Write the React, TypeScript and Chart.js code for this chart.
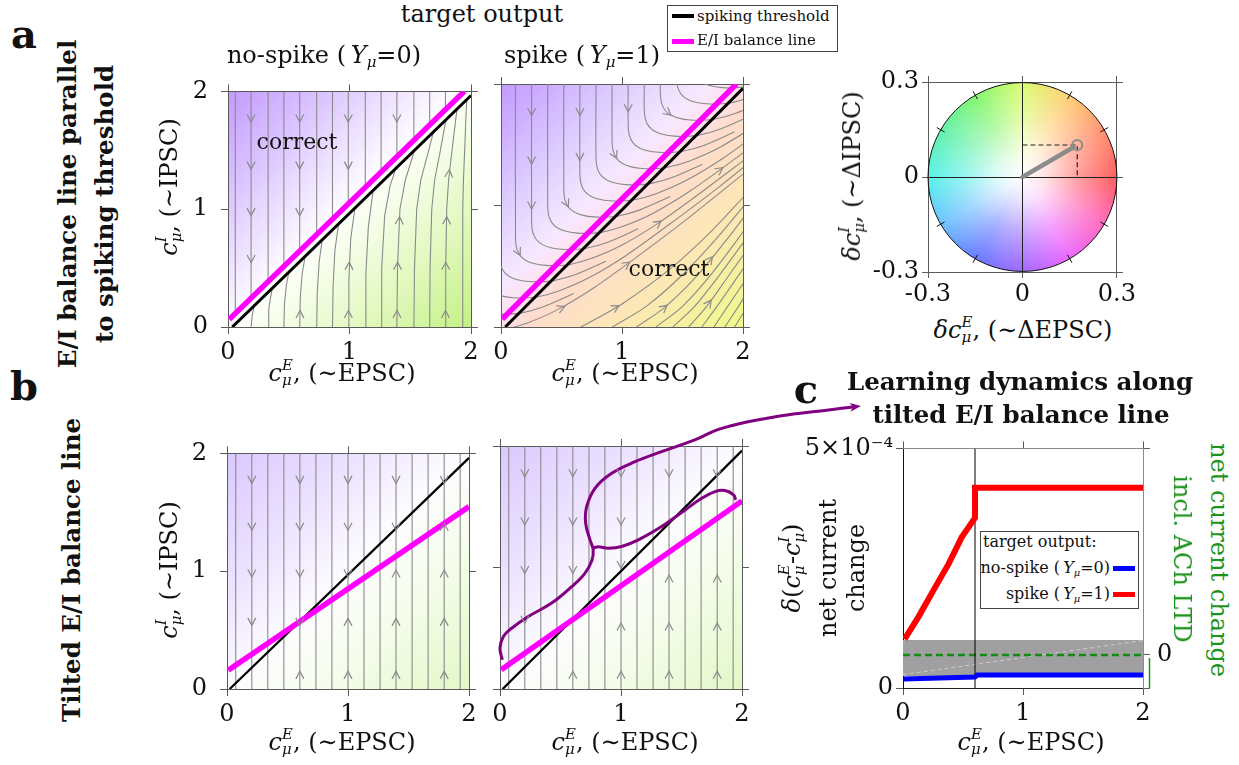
import React, { useEffect, useRef } from 'react';
import { Chart, registerables } from 'chart.js';

Chart.register(...registerables);

const FONT = "'DejaVu Serif', serif";
const INK = '#111111';
const FRAME = '#5a5a5a';
const STREAM = '#8a8a8a';
const MAGENTA = '#ff00ff';
const PURPLE = '#800080';
const GREEN = '#1c931c';

Chart.defaults.font.family = FONT;
Chart.defaults.font.size = 24;
Chart.defaults.color = INK;

// ---------------- tick values and labels ----------------
const FIELD_TICKS = [0, 1, 2];
const FIELD_TICK_LABELS = ['0', '1', '2'];
const WHEEL_TICKS = [-0.3, 0, 0.3];
const WHEEL_TICK_LABELS = ['-0.3', '0', '0.3'];
const C_X_TICKS = [0, 1, 2];
const C_X_TICK_LABELS = ['0', '1', '2'];
const C_Y_TICKS = [0, 5]; // in units of 1e-4
const C_Y_TICK_LABELS = ['0', '5×10⁻⁴'];
const C_Y2_TICKS = [0, 0.69, 5];
const C_Y2_TICK_LABELS = ['', '0', ''];

// ---------------- panel a: parallel balance line ----------------
const THRESH_A = [[0.035, 0], [2, 1.965]];
const BALANCE_A = [[0.01, 0.065], [1.945, 2]];

// no-spike target: streamlines
const A0_STREAMS = [
  [[0.06, 2], [0.06, 0.115]],
  [[0.19, 2], [0.19, 0.245]],
  [[0.33, 2], [0.33, 0.385]],
  [[0.46, 2], [0.46, 0.515]],
  [[0.59, 2], [0.59, 0.645]],
  [[0.73, 2], [0.73, 0.785]],
  [[0.86, 2], [0.86, 0.915]],
  [[0.99, 2], [0.99, 1.045]],
  [[1.13, 2], [1.13, 1.185]],
  [[1.26, 2], [1.26, 1.315]],
  [[1.39, 2], [1.39, 1.445]],
  [[1.53, 2], [1.53, 1.585]],
  [[1.66, 2], [1.66, 1.715]],
  [[1.79, 2], [1.79, 1.845]],
  [[1.93, 2], [1.93, 1.985]],
  [[0.19, 0], [0.2, 0.1], [0.215, 0.18]],
  [[0.33, 0], [0.335, 0.15], [0.35, 0.25], [0.365, 0.33]],
  [[0.46, 0], [0.465, 0.2], [0.48, 0.35], [0.5, 0.465]],
  [[0.59, 0], [0.595, 0.25], [0.61, 0.45], [0.635, 0.6]],
  [[0.73, 0], [0.735, 0.3], [0.75, 0.55], [0.775, 0.74]],
  [[0.86, 0], [0.865, 0.35], [0.88, 0.65], [0.91, 0.875]],
  [[0.99, 0], [0.995, 0.4], [1.01, 0.75], [1.045, 1.01]],
  [[1.13, 0], [1.135, 0.45], [1.155, 0.85], [1.195, 1.16]],
  [[1.26, 0], [1.265, 0.5], [1.29, 0.95], [1.335, 1.2], [1.38, 1.345]],
  [[1.39, 0], [1.395, 0.5], [1.415, 1.0], [1.46, 1.25], [1.535, 1.5]],
  [[1.53, 0], [1.535, 0.5], [1.553, 1.0], [1.587, 1.25], [1.652, 1.5], [1.69, 1.655]],
  [[1.66, 0], [1.663, 0.5], [1.677, 1.0], [1.701, 1.25], [1.748, 1.5], [1.794, 1.76]],
  [[1.79, 0], [1.792, 0.5], [1.8, 1.0], [1.816, 1.25], [1.844, 1.5], [1.873, 1.75], [1.885, 1.85]],
  [[1.93, 0], [1.931, 0.5], [1.933, 1.0], [1.938, 1.25], [1.948, 1.5], [1.957, 1.75], [1.965, 1.93]],
];
// arrows: [x, y, dx, dy]
const A0_ARROWS = [
  [0.19, 1.77, 0, -1], [0.19, 1.37, 0, -1], [0.19, 0.975, 0, -1], [0.19, 0.577, 0, -1],
  [0.59, 1.77, 0, -1], [0.59, 1.37, 0, -1], [0.59, 0.975, 0, -1],
  [0.99, 1.77, 0, -1], [0.99, 1.37, 0, -1],
  [1.39, 1.77, 0, -1],
  [0.593, 0.11, 0.02, 1],
  [0.991, 0.11, 0.01, 1], [0.997, 0.52, 0.03, 1],
  [1.391, 0.11, 0.01, 1], [1.396, 0.52, 0.02, 1], [1.411, 0.906, 0.05, 1],
  [1.79, 0.11, 0, 1], [1.792, 0.52, 0.01, 1], [1.8, 0.906, 0.02, 1], [1.819, 1.305, 0.06, 1],
];

// spike target: streamlines
const A1_STREAMS = [
  [[-0.082, -0.027], [0.038, -0.017], [0.218, 0.033], [0.468, 0.143], [0.768, 0.323], [1.118, 0.573], [1.518, 0.873], [2.018, 1.273]],
  [[-0.029, 0.108], [0.051, 0.106], [0.171, 0.116], [0.351, 0.166], [0.601, 0.276]],
  [[-0.056, 0.279], [0.014, 0.254], [0.104, 0.241], [0.184, 0.239], [0.304, 0.249], [0.484, 0.299], [0.734, 0.409], [1.034, 0.589], [1.384, 0.839], [1.784, 1.139], [2.284, 1.539]],
  [[-0.013, 0.592], [-0.003, 0.512], [0.027, 0.452], [0.077, 0.412], [0.147, 0.387], [0.237, 0.374], [0.317, 0.372], [0.437, 0.382], [0.617, 0.432], [0.867, 0.542]],
  [[0.12, 2], [0.12, 0.725], [0.13, 0.645], [0.16, 0.585], [0.21, 0.545], [0.28, 0.52], [0.37, 0.507], [0.45, 0.505], [0.57, 0.515], [0.75, 0.565], [1.0, 0.675], [1.3, 0.855], [1.65, 1.105], [2.05, 1.405]],
  [[0.253, 2], [0.253, 0.858], [0.263, 0.778], [0.293, 0.718], [0.343, 0.678], [0.413, 0.653], [0.503, 0.64], [0.583, 0.638], [0.703, 0.648], [0.883, 0.698], [1.133, 0.808]],
  [[0.386, 2], [0.386, 0.991], [0.396, 0.911], [0.426, 0.851], [0.476, 0.811], [0.546, 0.786], [0.636, 0.773], [0.716, 0.771], [0.836, 0.781], [1.016, 0.831], [1.266, 0.941], [1.566, 1.121], [1.916, 1.371], [2.316, 1.671]],
  [[0.519, 2], [0.519, 1.124], [0.529, 1.044], [0.559, 0.984], [0.609, 0.944], [0.679, 0.919], [0.769, 0.906], [0.849, 0.904], [0.969, 0.914], [1.149, 0.964], [1.399, 1.074]],
  [[0.652, 2], [0.652, 1.257], [0.662, 1.177], [0.692, 1.117], [0.742, 1.077], [0.812, 1.052], [0.902, 1.039], [0.982, 1.037], [1.102, 1.047], [1.282, 1.097], [1.532, 1.207], [1.832, 1.387], [2.182, 1.637]],
  [[0.785, 2], [0.785, 1.39], [0.795, 1.31], [0.825, 1.25], [0.875, 1.21], [0.945, 1.185], [1.035, 1.172], [1.115, 1.17], [1.235, 1.18], [1.415, 1.23], [1.665, 1.34]],
  [[0.918, 2], [0.918, 1.523], [0.928, 1.443], [0.958, 1.383], [1.008, 1.343], [1.078, 1.318], [1.168, 1.305], [1.248, 1.303], [1.368, 1.313], [1.548, 1.363], [1.798, 1.473], [2.098, 1.653]],
  [[1.051, 2], [1.051, 1.656], [1.061, 1.576], [1.091, 1.516], [1.141, 1.476], [1.211, 1.451], [1.301, 1.438], [1.381, 1.436], [1.501, 1.446], [1.681, 1.496], [1.931, 1.606]],
  [[1.184, 2], [1.184, 1.789], [1.194, 1.709], [1.224, 1.649], [1.274, 1.609], [1.344, 1.584], [1.434, 1.571], [1.514, 1.569], [1.634, 1.579], [1.814, 1.629], [2.064, 1.739]],
  [[1.317, 2], [1.317, 1.922], [1.327, 1.842], [1.357, 1.782], [1.407, 1.742], [1.477, 1.717], [1.567, 1.704], [1.647, 1.702], [1.767, 1.712], [1.947, 1.762], [2.197, 1.872]],
  [[1.45, 2.055], [1.46, 1.975], [1.49, 1.915], [1.54, 1.875], [1.61, 1.85], [1.7, 1.837], [1.78, 1.835], [1.9, 1.845], [2.08, 1.895]],
  [[1.623, 2.048], [1.673, 2.008], [1.743, 1.983], [1.833, 1.97], [1.913, 1.968], [2.033, 1.978]],
  [[0.66, 0], [1.0, 0.19], [1.4, 0.48], [1.75, 0.8], [2.05, 1.12]],
  [[0.92, 0], [1.2, 0.17], [1.5, 0.43], [1.8, 0.75], [2.05, 1.05]],
  [[1.12, 0], [1.35, 0.16], [1.6, 0.4], [1.85, 0.7], [2.05, 0.96]],
  [[1.28, 0], [1.5, 0.17], [1.75, 0.45], [2.05, 0.85]],
  [[1.42, 0], [1.6, 0.17], [1.8, 0.42], [2.05, 0.76]],
  [[1.55, 0], [1.7, 0.17], [1.88, 0.42], [2.05, 0.66]],
  [[1.66, 0], [1.8, 0.19], [2.05, 0.55]],
  [[1.76, 0], [1.88, 0.18], [2.05, 0.43]],
  [[1.85, 0], [1.95, 0.15], [2.05, 0.31]],
  [[1.93, 0], [2.05, 0.19]],
];
const A1_ARROWS = [
  [0.253, 1.77, 0, -1], [0.253, 1.37, 0, -1], [0.253, 1.0, 0, -1],
  [0.652, 1.77, 0, -1], [0.652, 1.4, 0, -1],
  [1.051, 1.8, 0, -1],
  [0.145, 0.615, 0.5, -1],
  [0.544, 1.014, 0.5, -1],
  [0.943, 1.413, 0.5, -1],
  [1.382, 1.762, 1.25, -1],
  [0.5, 0.157, 1, 0.44],
  [1.04, 0.517, 1, 0.71],
  [1.3, 0.855, 1, 0.7],
  [1.81, 1.295, 1, 0.71],
  [1.73, 0.556, 1, 1.2],
  [1.35, 0.16, 1, 0.8],
  [1.72, 0.198, 1, 1.39],
  [0.95, 0.162, 1, 0.56],
];

// ---------------- panel a: weight-change wheel ----------------
const WHEEL_R = 0.3;
const WHEEL_VEC = [0.174, 0.101];
const WHEEL_SHAFT = [[0, 0], [0.162, 0.094]];
const WHEEL_DASH = [[0, 0.101], [0.174, 0.101], [0.174, 0]];
const WHEEL_TICK_ANGLES = [30, 60, 120, 150, 210, 240, 300, 330];
const WHEEL_COLORS = [
  [0, 'rgb(255,85,85)'], [30, 'rgb(255,140,105)'], [60, 'rgb(255,205,110)'], [90, 'rgb(215,252,105)'],
  [120, 'rgb(125,245,105)'], [150, 'rgb(90,240,165)'], [180, 'rgb(80,240,232)'], [210, 'rgb(100,190,255)'],
  [240, 'rgb(95,115,255)'], [270, 'rgb(155,95,255)'], [300, 'rgb(235,95,255)'], [330, 'rgb(255,95,185)'],
];

// ---------------- panel b: tilted balance line ----------------
const THRESH_B = [[0.022, 0], [2, 1.962]];
const BALANCE_B = [[0.01, 0.159], [2, 1.548]];
const B_STREAM_X = [0.072, 0.205, 0.337, 0.47, 0.602, 0.735, 0.867, 1.0, 1.132, 1.265, 1.397, 1.53, 1.662, 1.795, 1.927];
const B_STREAM_Y = [0, 2];
const B0_ARROWS = [
  [0.205, 1.775, 0, -1], [0.205, 1.378, 0, -1], [0.205, 0.98, 0, -1], [0.205, 0.57, 0, -1],
  [0.602, 1.775, 0, -1], [0.602, 1.378, 0, -1], [0.602, 0.98, 0, -1], [0.602, 0.57, 0, -1],
  [1.0, 1.775, 0, -1], [1.0, 1.378, 0, -1], [1.0, 0.98, 0, -1],
  [1.397, 1.775, 0, -1], [1.397, 1.378, 0, -1],
  [1.795, 1.775, 0, -1],
  [0.602, 0.12, 0, 1], [1.0, 0.57, 0, 1], [1.0, 0.12, 0, 1],
  [1.397, 0.98, 0, 1], [1.397, 0.57, 0, 1], [1.397, 0.12, 0, 1],
  [1.795, 1.378, 0, 1], [1.795, 0.98, 0, 1], [1.795, 0.57, 0, 1], [1.795, 0.12, 0, 1],
];
const B1_ARROWS = [
  [0.205, 1.775, 0, -1], [0.205, 1.378, 0, -1], [0.205, 0.98, 0, -1], [0.205, 0.57, 0, -1],
  [0.602, 1.775, 0, -1], [0.602, 1.378, 0, -1], [0.602, 0.98, 0, -1],
  [1.0, 1.775, 0, -1], [1.0, 1.378, 0, -1], [1.0, 1.02, 0, -1],
  [1.397, 1.775, 0, -1],
  [1.795, 1.775, 0, -1],
  [0.602, 0.118, 0, 1],
  [1.0, 0.515, 0, 1], [1.0, 0.118, 0, 1],
  [1.397, 0.91, 0, 1], [1.397, 0.515, 0, 1], [1.397, 0.118, 0, 1],
  [1.795, 0.91, 0, 1], [1.795, 0.515, 0, 1], [1.795, 0.118, 0, 1],
];
// learning trajectory (purple) and its arrow to panel c
const B1_PATH_MAIN = [
  [0.019, 0.241], [0.0, 0.337], [0.028, 0.433], [0.096, 0.5], [0.234, 0.597], [0.427, 0.707], [0.59, 0.84],
  [0.7, 0.95], [0.76, 1.06], [0.77, 1.145], [0.744, 1.227], [0.708, 1.364], [0.716, 1.5], [0.785, 1.652],
  [0.923, 1.775], [1.116, 1.871], [1.336, 1.953], [1.61, 2.05], [1.8, 2.135], [2.05, 2.2], [2.4, 2.26],
  [2.7, 2.295], [2.95, 2.325],
];
const B1_PATH_BRANCH = [
  [0.77, 1.16], [0.81, 1.17], [0.895, 1.159], [1.006, 1.173], [1.143, 1.227], [1.336, 1.337], [1.53, 1.474],
  [1.667, 1.57], [1.777, 1.625], [1.86, 1.633], [1.93, 1.597], [1.948, 1.556],
];

// ---------------- panel c: net current change ----------------
const C_SPIKE_X = [0.013, 0.13, 0.27, 0.38, 0.49, 0.6, 0.6, 2.0];
const C_SPIKE_Y = [1.02, 1.49, 2.11, 2.59, 3.15, 3.55, 4.18, 4.18];
const C_NOSPIKE_X = [0.005, 0.6, 0.62, 2.0];
const C_NOSPIKE_Y = [0.19, 0.23, 0.27, 0.27];
const C_BAND_LOW = 0.25;
const C_BAND_HIGH = 1.0;
const C_LTD_ZERO = 0.69;
const C_CROSS_X = 0.6;
const C_BAND_DIAG = [[0, 0.28], [2, 0.99]];

// ---------------- layout (page pixels of each plot area) ----------------
const BOX_A0 = { l: 228, t: 84, r: 471, b: 327 };
const BOX_A1 = { l: 501, t: 84, r: 743, b: 327 };
const BOX_W = { l: 928, t: 82, r: 1118, b: 272 };
const BOX_B0 = { l: 227, t: 446, r: 469, b: 689 };
const BOX_B1 = { l: 500, t: 446, r: 742, b: 689 };
const BOX_C = { l: 903, t: 447, r: 1143, b: 688 };

function frame(box, m, ax) {
  return {
    rect: { x: box.l - m.l, y: box.t - m.t, w: box.r - box.l + m.l + m.r, h: box.b - box.t + m.t + m.b },
    padding: { left: m.l - ax.l, top: m.t - ax.t, right: m.r - ax.r, bottom: m.b - ax.b },
    ax,
  };
}
const M_FIELD = { l: 60, t: 20, r: 20, b: 45 };
const AX_FIELD = { l: 50, t: 10, r: 10, b: 35 };
const FR_A0 = frame(BOX_A0, M_FIELD, AX_FIELD);
const FR_A1 = frame(BOX_A1, M_FIELD, AX_FIELD);
const FR_B0 = frame(BOX_B0, M_FIELD, AX_FIELD);
const FR_B1 = frame(BOX_B1, { l: 60, t: 60, r: 130, b: 45 }, AX_FIELD);
const FR_W = frame(BOX_W, { l: 72, t: 20, r: 20, b: 40 }, { l: 62, t: 10, r: 10, b: 30 });
const FR_C = frame(BOX_C, { l: 125, t: 20, r: 45, b: 45 }, { l: 115, t: 10, r: 35, b: 35 });

const BG_A0 = [[0, '#c39aff'], [0.22, '#dcc6ff'], [0.47, '#fcf9ff'], [0.53, '#fbfff4'], [0.78, '#e0f8bb'], [1, '#c3f186']];
const BG_A1 = [[0, '#c39aff'], [0.25, '#ddccff'], [0.42, '#f6e8ff'], [0.49, '#ffe2ee'], [0.55, '#ffdccc'], [0.75, '#fde8b4'], [1, '#effa8a']];
const BG_B = [[0, '#dac8ff'], [0.3, '#eee4ff'], [0.5, '#fdfcff'], [0.7, '#f5fdeb'], [1, '#e2f8c6']];

// ---------------- helpers ----------------
const toXY = (arr) => arr.map(([x, y]) => ({ x, y }));
const zipXY = (xs, ys) => xs.map((x, i) => [x, ys[i]]);

function lineDs(arr, color, width, extra = {}) {
  return {
    data: toXY(arr), borderColor: color, backgroundColor: color, borderWidth: width,
    pointRadius: 0, pointHoverRadius: 0, fill: false, tension: 0, xAxisID: 'x', yAxisID: 'y', ...extra,
  };
}

function axis(pos, min, max, ticks, labels, size, opt: any = {}) {
  const horizontal = pos === 'top' || pos === 'bottom';
  return {
    type: 'linear', position: pos, min, max,
    afterBuildTicks: (ax) => { ax.ticks = ticks.map((v) => ({ value: v })); },
    afterFit: (ax) => { if (horizontal) ax.height = size; else ax.width = size; },
    ticks: {
      display: !!labels, padding: opt.pad ?? 4, color: INK, font: { family: FONT, size: 24 },
      autoSkip: false, maxRotation: 0, minRotation: 0,
      callback: (_v, i) => (labels ? labels[i] : ''),
    },
    grid: {
      display: true, drawOnChartArea: !!opt.onArea, drawTicks: true, tickLength: opt.tickLen ?? 7,
      color: opt.gridColor ?? FRAME, tickColor: opt.tickColor ?? FRAME, lineWidth: 1,
    },
    border: { display: true, color: opt.border ?? FRAME, width: 1 },
  };
}

function baseOptions(fr, scales) {
  return {
    responsive: false, animation: false, devicePixelRatio: 1, events: [],
    layout: { padding: fr.padding },
    plugins: { legend: { display: false }, tooltip: { enabled: false } },
    scales,
  };
}

function paintDiagonal(c, stops) {
  const { ctx, chartArea: a } = c;
  const g = ctx.createLinearGradient(a.left, a.top, a.right, a.bottom);
  stops.forEach(([o, col]) => g.addColorStop(o, col));
  ctx.save();
  ctx.fillStyle = g;
  ctx.fillRect(a.left, a.top, a.right - a.left, a.bottom - a.top);
  ctx.restore();
}

function drawChevrons(c, arrows, color = STREAM) {
  const { ctx, chartArea: a, scales } = c;
  const x = scales.x, y = scales.y;
  ctx.save();
  ctx.beginPath();
  ctx.rect(a.left, a.top, a.right - a.left, a.bottom - a.top);
  ctx.clip();
  ctx.strokeStyle = color;
  ctx.lineWidth = 1.2;
  for (const [ax, ay, dx, dy] of arrows) {
    const px = x.getPixelForValue(ax), py = y.getPixelForValue(ay);
    const vx = x.getPixelForValue(ax + dx) - px;
    const vy = y.getPixelForValue(ay + dy) - py;
    const L = Math.hypot(vx, vy) || 1;
    const ux = vx / L, uy = vy / L;
    const tx = px + ux * 3.5, ty = py + uy * 3.5;
    const bx = tx - ux * 7.5, by = ty - uy * 7.5;
    ctx.beginPath();
    ctx.moveTo(bx - uy * 4, by + ux * 4);
    ctx.lineTo(tx, ty);
    ctx.lineTo(bx + uy * 4, by - ux * 4);
    ctx.stroke();
  }
  ctx.restore();
}

function drawHead(c, path, color) {
  const { ctx, scales } = c;
  const x = scales.x, y = scales.y;
  const n = path.length;
  const qx = x.getPixelForValue(path[n - 2][0]), qy = y.getPixelForValue(path[n - 2][1]);
  const px = x.getPixelForValue(path[n - 1][0]), py = y.getPixelForValue(path[n - 1][1]);
  const L = Math.hypot(px - qx, py - qy) || 1;
  const ux = (px - qx) / L, uy = (py - qy) / L;
  const tx = px + ux * 4, ty = py + uy * 4;
  ctx.save();
  ctx.fillStyle = color;
  ctx.beginPath();
  ctx.moveTo(tx, ty);
  ctx.lineTo(tx - ux * 11 - uy * 4.5, ty - uy * 11 + ux * 4.5);
  ctx.lineTo(tx - ux * 8, ty - uy * 8);
  ctx.lineTo(tx - ux * 11 + uy * 4.5, ty - uy * 11 - ux * 4.5);
  ctx.closePath();
  ctx.fill();
  ctx.restore();
}

function fieldBuild(o) {
  return (fr) => {
    const datasets = [
      ...(o.top || []),
      lineDs(o.balance, MAGENTA, 5.5),
      lineDs(o.thresh, '#000000', o.threshWidth),
      ...o.streams.map((s) => lineDs(s, STREAM, 1.1, { tension: o.tension || 0, capBezierPoints: false })),
    ];
    return {
      type: 'line',
      data: { datasets },
      options: baseOptions(fr, {
        x: axis('bottom', 0, 2, FIELD_TICKS, FIELD_TICK_LABELS, fr.ax.b, { pad: 4 }),
        y: axis('left', 0, 2, FIELD_TICKS, o.yLabels ? FIELD_TICK_LABELS : null, fr.ax.l, { pad: 13 }),
        x2: axis('top', 0, 2, FIELD_TICKS, null, fr.ax.t),
        y2: axis('right', 0, 2, FIELD_TICKS, null, fr.ax.r),
      }),
      plugins: [{
        id: 'fieldDeco',
        beforeDraw: (c) => paintDiagonal(c, o.bg),
        afterDatasetsDraw: (c) => { drawChevrons(c, o.arrows); if (o.after) o.after(c); },
      }],
    };
  };
}

const bStreams = B_STREAM_X.map((x) => B_STREAM_Y.map((y) => [x, y]));

const buildA0 = fieldBuild({ streams: A0_STREAMS, arrows: A0_ARROWS, thresh: THRESH_A, balance: BALANCE_A, threshWidth: 3, bg: BG_A0, yLabels: true });
const buildA1 = fieldBuild({ streams: A1_STREAMS, arrows: A1_ARROWS, thresh: THRESH_A, balance: BALANCE_A, threshWidth: 3, bg: BG_A1, tension: 0.3, yLabels: false });
const buildB0 = fieldBuild({ streams: bStreams, arrows: B0_ARROWS, thresh: THRESH_B, balance: BALANCE_B, threshWidth: 2.2, bg: BG_B, yLabels: true });
const buildB1 = fieldBuild({
  streams: bStreams, arrows: B1_ARROWS, thresh: THRESH_B, balance: BALANCE_B, threshWidth: 2.2, bg: BG_B, yLabels: false,
  top: [
    lineDs(B1_PATH_MAIN, PURPLE, 3, { tension: 0.4, clip: false, capBezierPoints: false }),
    lineDs(B1_PATH_BRANCH, PURPLE, 3, { tension: 0.4, capBezierPoints: false }),
  ],
  after: (c) => drawHead(c, B1_PATH_MAIN, PURPLE),
});

function paintWheel(c) {
  const { ctx, scales } = c;
  const x = scales.x, y = scales.y;
  const cx = x.getPixelForValue(0), cy = y.getPixelForValue(0);
  const r = x.getPixelForValue(WHEEL_R) - cx;
  ctx.save();
  ctx.beginPath();
  ctx.arc(cx, cy, r, 0, Math.PI * 2);
  ctx.clip();
  const g = ctx.createConicGradient(0, cx, cy);
  const stops = WHEEL_COLORS.map(([deg, col]) => [((360 - deg) % 360) / 360, col]).sort((p, q) => p[0] - q[0]);
  stops.forEach(([o, col]) => g.addColorStop(o, col));
  g.addColorStop(1, WHEEL_COLORS[0][1]);
  ctx.fillStyle = g;
  ctx.fillRect(cx - r, cy - r, 2 * r, 2 * r);
  const rg = ctx.createRadialGradient(cx, cy, 0, cx, cy, r);
  rg.addColorStop(0, 'rgba(255,255,255,1)');
  rg.addColorStop(0.25, 'rgba(255,255,255,0.82)');
  rg.addColorStop(0.6, 'rgba(255,255,255,0.42)');
  rg.addColorStop(1, 'rgba(255,255,255,0.05)');
  ctx.fillStyle = rg;
  ctx.fillRect(cx - r, cy - r, 2 * r, 2 * r);
  ctx.restore();
}

function outlineWheel(c) {
  const { ctx, scales } = c;
  const x = scales.x, y = scales.y;
  const cx = x.getPixelForValue(0), cy = y.getPixelForValue(0);
  const r = x.getPixelForValue(WHEEL_R) - cx;
  ctx.save();
  ctx.strokeStyle = '#111';
  ctx.lineWidth = 1;
  ctx.beginPath();
  ctx.arc(cx, cy, r, 0, Math.PI * 2);
  ctx.stroke();
  for (const deg of WHEEL_TICK_ANGLES) {
    const a = (deg * Math.PI) / 180;
    const ux = Math.cos(a), uy = -Math.sin(a);
    ctx.beginPath();
    ctx.moveTo(cx + ux * (r - 4.5), cy + uy * (r - 4.5));
    ctx.lineTo(cx + ux * (r + 4.5), cy + uy * (r + 4.5));
    ctx.stroke();
  }
  ctx.restore();
}

function buildW(fr) {
  const zeroColor = (ctx) => (ctx.tick && ctx.tick.value === 0 ? '#222' : '#666');
  return {
    type: 'line',
    data: {
      datasets: [
        lineDs([WHEEL_VEC], '#8c8c8c', 2, { showLine: false, pointRadius: 5, pointBorderColor: '#8c8c8c', pointBorderWidth: 2, pointBackgroundColor: 'rgba(0,0,0,0)' }),
        lineDs(WHEEL_SHAFT, '#8c8c8c', 4.5, { borderCapStyle: 'round' }),
        lineDs(WHEEL_DASH, '#222', 1.2, { borderDash: [5, 3] }),
      ],
    },
    options: baseOptions(fr, {
      x: axis('bottom', -0.3, 0.3, WHEEL_TICKS, WHEEL_TICK_LABELS, fr.ax.b, { pad: 2, tickLen: 6, onArea: true, gridColor: zeroColor }),
      y: axis('left', -0.3, 0.3, WHEEL_TICKS, WHEEL_TICK_LABELS, fr.ax.l, { pad: 3, tickLen: 6, onArea: true, gridColor: zeroColor }),
      x2: axis('top', -0.3, 0.3, WHEEL_TICKS, null, fr.ax.t, { tickLen: 6 }),
      y2: axis('right', -0.3, 0.3, WHEEL_TICKS, null, fr.ax.r, { tickLen: 6 }),
    }),
    plugins: [{ id: 'wheel', beforeDraw: paintWheel, afterDatasetsDraw: outlineWheel }],
  };
}

function buildC(fr) {
  return {
    type: 'line',
    data: {
      datasets: [
        lineDs(zipXY(C_SPIKE_X, C_SPIKE_Y), '#ff0000', 6, { borderJoinStyle: 'miter' }),
        lineDs(zipXY(C_NOSPIKE_X, C_NOSPIKE_Y), '#0000ff', 5, { borderJoinStyle: 'miter' }),
        lineDs([[C_CROSS_X, 0], [C_CROSS_X, 5]], '#000', 1),
        lineDs([[0, C_LTD_ZERO], [2, C_LTD_ZERO]], '#138a13', 2.5, { borderDash: [7, 4] }),
        lineDs(C_BAND_DIAG, 'rgba(255,255,255,0.45)', 1, { borderDash: [4, 3] }),
        lineDs([[0, C_BAND_HIGH], [2, C_BAND_HIGH]], '#a0a0a0', 0, { fill: { value: C_BAND_LOW }, backgroundColor: '#a0a0a0' }),
      ],
    },
    options: baseOptions(fr, {
      x: axis('bottom', 0, 2, C_X_TICKS, C_X_TICK_LABELS, fr.ax.b, { pad: 4, border: '#222' }),
      y: axis('left', 0, 5, C_Y_TICKS, C_Y_TICK_LABELS, fr.ax.l, { pad: 3, border: '#111' }),
      x2: axis('top', 0, 2, C_X_TICKS, null, fr.ax.t, { border: '#8a8a8a' }),
      y2: axis('right', 0, 5, C_Y2_TICKS, C_Y2_TICK_LABELS, fr.ax.r, { pad: 7, border: '#8a8a8a' }),
    }),
    plugins: [{
      id: 'ltdAxis',
      afterDraw: (c) => {
        const { ctx, chartArea: a, scales } = c;
        const xx = a.right + 6.5;
        ctx.save();
        ctx.strokeStyle = GREEN;
        ctx.lineWidth = 1.5;
        ctx.beginPath();
        ctx.moveTo(xx, scales.y.getPixelForValue(C_LTD_ZERO) + 3);
        ctx.lineTo(xx, a.bottom);
        ctx.stroke();
        ctx.restore();
      },
    }],
  };
}

// ---------------- React components ----------------
function ChartBox({ fr, build }) {
  const ref = useRef(null);
  useEffect(() => {
    const chart = new Chart(ref.current, build(fr));
    return () => chart.destroy();
  }, []);
  return (
    <canvas
      ref={ref}
      width={fr.rect.w}
      height={fr.rect.h}
      style={{ position: 'absolute', left: fr.rect.x, top: fr.rect.y, width: fr.rect.w, height: fr.rect.h }}
    />
  );
}

function Txt({ x, y, children, size = 24, bold = false, rot = 0, color = INK, anchor = 'center' }: any) {
  const tx = anchor === 'left' ? '0' : anchor === 'right' ? '-100%' : '-50%';
  return (
    <div
      style={{
        position: 'absolute', left: x, top: y, transform: `translate(${tx},-50%) rotate(${rot}deg)`,
        fontFamily: FONT, fontSize: size, fontWeight: bold ? 700 : 400, color, whiteSpace: 'nowrap', lineHeight: 1,
      }}
    >
      {children}
    </div>
  );
}

function Mc({ sup, d = false, w = '0.46em' }: any) {
  const small: any = { position: 'absolute', left: 0, fontSize: '0.62em', lineHeight: 1, fontStyle: 'italic' };
  return (
    <span>
      {d ? <i>δ</i> : null}
      <i>c</i>
      <span style={{ display: 'inline-block', position: 'relative', width: w, height: 0 }}>
        <span style={{ ...small, top: '-1.52em' }}>{sup}</span>
        <span style={{ ...small, top: '-0.52em' }}>μ</span>
      </span>
    </span>
  );
}

function Ymu() {
  return (
    <span>
      <i>Y</i>
      <span style={{ position: 'relative', top: '0.3em', fontSize: '0.62em', fontStyle: 'italic' }}>μ</span>
    </span>
  );
}

function Swatch({ x, y, w, h, color }: any) {
  return <div style={{ position: 'absolute', left: x, top: y, width: w, height: h, background: color }} />;
}

export default function App() {
  return (
    <div
      style={{
        position: 'fixed', left: 0, top: 0, width: 1239, height: 765, background: '#ffffff',
        overflow: 'hidden', fontFamily: FONT, color: INK,
      }}
    >
      <ChartBox fr={FR_C} build={buildC} />
      <ChartBox fr={FR_A0} build={buildA0} />
      <ChartBox fr={FR_A1} build={buildA1} />
      <ChartBox fr={FR_W} build={buildW} />
      <ChartBox fr={FR_B0} build={buildB0} />
      <ChartBox fr={FR_B1} build={buildB1} />

      {/* panel letters */}
      <Txt x={24} y={34} size={40} bold>a</Txt>
      <Txt x={24} y={386} size={40} bold>b</Txt>
      <Txt x={806} y={389} size={40} bold>c</Txt>

      {/* row titles */}
      <Txt x={68} y={204} rot={-90} size={24.5} bold>E/I balance line parallel</Txt>
      <Txt x={104.5} y={204} rot={-90} size={24.5} bold>to spiking threshold</Txt>
      <Txt x={71.5} y={570} rot={-90} size={24.5} bold>Tilted E/I balance line</Txt>

      {/* column titles */}
      <Txt x={482} y={14}>target output</Txt>
      <Txt x={324} y={55}>no-spike (&#8201;<Ymu />=0)</Txt>
      <Txt x={582} y={55}>spike (&#8201;<Ymu />=1)</Txt>

      {/* legend of panel a */}
      <div style={{ position: 'absolute', left: 667, top: 5, width: 171, height: 47, border: '1px solid #444', boxSizing: 'border-box', background: '#fff' }} />
      <Swatch x={672} y={13.5} w={22} h={4.5} color="#000" />
      <Swatch x={672} y={38.5} w={22} h={5} color={MAGENTA} />
      <Txt x={697} y={16} size={15} anchor="left">spiking threshold</Txt>
      <Txt x={697} y={40} size={15} anchor="left">E/I balance line</Txt>

      {/* in-panel notes */}
      <Txt x={297} y={142} size={22}>correct</Txt>
      <Txt x={669} y={269} size={22}>correct</Txt>

      {/* axis titles, row a */}
      <Txt x={169} y={187} rot={-90}><Mc sup="I" w="0.4em" />, (∼IPSC)</Txt>
      <Txt x={342} y={373}><Mc sup="E" />, (∼EPSC)</Txt>
      <Txt x={625} y={373}><Mc sup="E" />, (∼EPSC)</Txt>
      <Txt x={1023} y={330}><Mc sup="E" d />, (∼ΔEPSC)</Txt>
      <Txt x={852} y={176} rot={-90}><Mc sup="I" d w="0.4em" />, (∼ΔIPSC)</Txt>

      {/* axis titles, row b */}
      <Txt x={169} y={570} rot={-90}><Mc sup="I" w="0.4em" />, (∼IPSC)</Txt>
      <Txt x={342} y={742}><Mc sup="E" />, (∼EPSC)</Txt>
      <Txt x={625} y={742}><Mc sup="E" />, (∼EPSC)</Txt>

      {/* panel c */}
      <Txt x={1020} y={381.5} size={24.5} bold>Learning dynamics along</Txt>
      <Txt x={1021} y={414.5} size={24.5} bold>tilted E/I balance line</Txt>
      <Txt x={792} y={568} rot={-90}><i>δ</i>(<Mc sup="E" />-<Mc sup="I" w="0.4em" />)</Txt>
      <Txt x={828} y={568} rot={-90}>net current</Txt>
      <Txt x={856} y={568} rot={-90}>change</Txt>
      <Txt x={1031} y={742}><Mc sup="E" />, (∼EPSC)</Txt>
      <Txt x={1219} y={560} rot={90} color={GREEN}>net current change</Txt>
      <Txt x={1182} y={559} rot={90} color={GREEN}>incl. ACh LTD</Txt>

      {/* legend of panel c */}
      <div style={{ position: 'absolute', left: 980, top: 531, width: 159, height: 78, border: '1px solid #444', boxSizing: 'border-box', background: '#fff' }} />
      <Txt x={983} y={542} size={16} anchor="left">target output:</Txt>
      <Txt x={1110} y={568} size={16} anchor="right">no-spike (&#8201;<Ymu />=0)</Txt>
      <Txt x={1110} y={594} size={16} anchor="right">spike (&#8201;<Ymu />=1)</Txt>
      <Swatch x={1113} y={566} w={22} h={4.5} color="#0000ff" />
      <Swatch x={1113} y={592} w={22} h={4.5} color="#ff0000" />
    </div>
  );
}
